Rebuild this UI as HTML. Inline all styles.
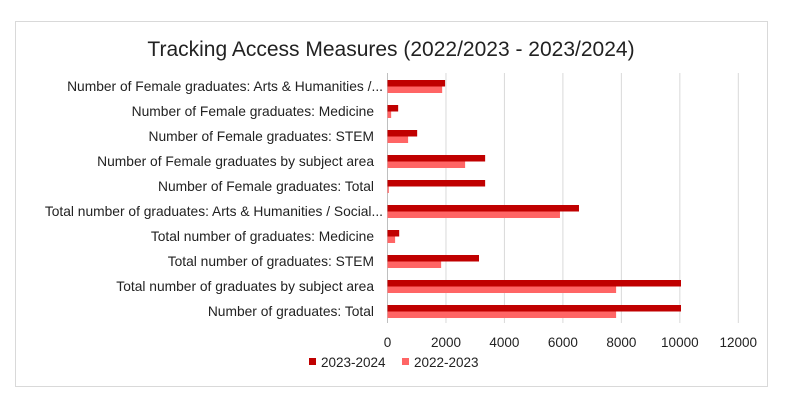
<!DOCTYPE html>
<html><head><meta charset="utf-8"><style>
body{margin:0;background:#fff;width:792px;height:400px;overflow:hidden}
svg text{font-family:"Liberation Sans",sans-serif;fill:#222}
</style></head><body>
<svg id="chart" width="792" height="400" xmlns="http://www.w3.org/2000/svg">
<rect x="15.5" y="21.5" width="752" height="365" fill="#fff" stroke="#d9d9d9"/>
<text x="391" y="56" font-size="21" text-anchor="middle">Tracking Access Measures (2022/2023 - 2023/2024)</text>
<g id="grid"></g><g id="bars"></g><g id="labels"></g><g id="ticks"></g>
<g>
<rect x="309" y="358" width="7" height="7" fill="#c00000"/>
<text x="321" y="367" font-size="13.5">2023-2024</text>
<rect x="402" y="358" width="7" height="7" fill="#ff6565"/>
<text x="414" y="367" font-size="13.5">2022-2023</text>
</g>
</svg>
<script>
const categories=["Number of Female graduates: Arts & Humanities /...","Number of Female graduates: Medicine","Number of Female graduates: STEM","Number of Female graduates by subject area","Number of Female graduates: Total","Total number of graduates: Arts & Humanities / Social...","Total number of graduates: Medicine","Total number of graduates: STEM","Total number of graduates by subject area","Number of graduates: Total"];
const series2324=[1970,365,1015,3340,3340,6550,400,3130,10040,10040];
const series2223=[1870,125,705,2655,45,5900,260,1835,7820,7820];
const tickLabels=[0,2000,4000,6000,8000,10000,12000];
const NS="http://www.w3.org/2000/svg";
const x0=387.5,x1=738.3,xMax=12000,yTop=73,rowH=25;
function xs(v){return x0+(x1-x0)*v/xMax}
function ys(i){return yTop+i*rowH}
function mk(tag,attrs,parent){const e=document.createElementNS(NS,tag);for(const k in attrs)e.setAttribute(k,attrs[k]);document.getElementById(parent).appendChild(e);return e}
tickLabels.forEach(t=>{
  const l=mk('line',{x1:xs(t),x2:xs(t),y1:yTop,y2:yTop+rowH*categories.length,stroke:t===0?'#bfbfbf':'#d9d9d9','stroke-width':1},'grid');
  
  
  const tx=mk('text',{x:xs(t),y:347,'font-size':13.5,'text-anchor':'middle'},'ticks');
  tx.textContent=t;
  
  
});
categories.forEach((c,i)=>{
  const y=ys(i);
  const b1=mk('rect',{x:x0,y:y+7,width:xs(series2324[i])-x0,height:6.5,fill:'#c00000'},'bars');
  
  
  const b2=mk('rect',{x:x0,y:y+13.5,width:xs(series2223[i])-x0,height:6.5,fill:'#ff6565'},'bars');
  
  
  const endX=c.endsWith('...')?383:374;
  const tx=mk('text',{x:endX,y:y+18,'font-size':13.8,'text-anchor':'end'},'labels');
  tx.textContent=c;
  
  
});
</script>
</body></html>
